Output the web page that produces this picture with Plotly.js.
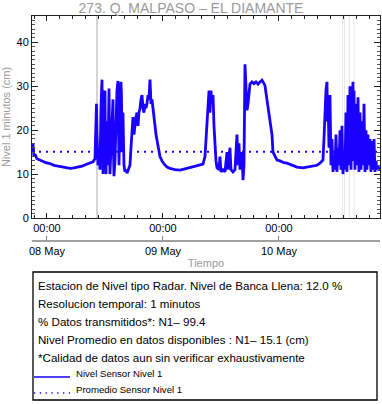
<!DOCTYPE html>
<html><head><meta charset="utf-8">
<script src="https://cdn.plot.ly/plotly-3.0.1.min.js"></script>
<style>html,body{margin:0;padding:0;background:#fff}#chart{width:382px;height:404px}</style>
</head><body><div id="chart"></div>
<script>
const stationTitle = '273. Q. MALPASO – EL DIAMANTE';
const yTitle = 'Nivel 1 minutos (cm)';
const xTitle = 'Tiempo';
const seriesNames = ['Nivel Sensor Nivel 1', 'Promedio Sensor Nivel 1'];
const infoLines = [
  'Estacion de Nivel tipo Radar. Nivel de Banca Llena: 12.0 %',
  'Resolucion temporal: 1 minutos',
  '% Datos transmitidos*: N1– 99.4',
  'Nivel Promedio en datos disponibles : N1– 15.1 (cm)',
  '*Calidad de datos aun sin verificar exhaustivamente'
];
// hours after 2024-05-08 00:00
const hoursFromMay8 = [
-3.10,-2.90,-2.69,-2.48,-2.07,-1.45,-0.83,-0.21,0.62,1.45,2.28,3.10,3.93,4.76,5.59,6.41,7.24,8.07,8.90,9.52,
9.93,10.14,10.24,10.34,10.55,10.76,10.97,11.17,11.38,11.48,11.59,11.79,12.00,12.10,12.21,12.41,12.62,12.83,12.93,13.03,
13.24,13.45,13.66,13.76,13.86,14.07,14.28,14.48,14.69,14.79,14.90,15.10,15.31,15.41,15.52,15.72,15.93,16.14,16.35,16.55,
16.76,16.97,17.17,17.38,17.59,17.79,18.00,18.21,18.41,18.62,18.83,19.03,19.24,19.45,19.66,19.86,20.07,20.28,20.48,20.69,
20.90,21.10,21.31,21.52,21.72,21.93,22.14,22.35,22.55,22.76,22.97,23.17,23.38,23.79,24.21,24.83,25.45,26.48,27.52,28.55,
29.59,30.62,31.66,32.28,32.69,32.90,33.10,33.31,33.52,33.72,33.93,34.14,34.35,34.55,34.76,34.97,35.17,35.59,35.79,36.00,
36.41,36.83,37.24,37.45,37.86,38.07,38.48,38.90,39.31,39.52,39.72,39.93,40.35,40.55,40.76,40.97,41.17,41.38,41.59,41.79,
42.00,42.41,42.83,43.24,43.66,44.07,44.48,44.90,45.10,45.31,45.52,45.72,45.93,46.14,46.34,46.55,46.76,47.17,47.59,48.21,
49.03,49.66,50.69,51.72,52.97,54.00,55.03,55.86,56.48,57.10,57.31,57.52,57.72,57.93,58.04,58.14,58.35,58.55,58.66,58.76,
58.97,59.17,59.38,59.59,59.79,60.00,60.21,60.41,60.62,60.83,61.03,61.24,61.45,61.66,61.86,62.07,62.28,62.48,62.69,62.90,
63.10,63.31,63.41,63.52,63.72,63.93,64.14,64.35,64.55,64.76,64.97,65.17,65.38,65.59,65.79,66.00,66.21,66.41,66.62,66.83,
67.03,67.24,67.45,67.66,67.86,68.07,68.28,68.48,68.69,68.90
];
const levelCm = [
15.0,17.0,14.0,14.5,13.5,13.2,13.0,12.6,12.4,12.0,11.8,11.6,11.4,11.3,11.4,11.6,11.8,12.2,12.5,12.8,
13.5,22,26,20,12,15,11,25,31.5,20,10,28,29,14,10,22,12,29.5,18,10,
16,24,27,15,9.5,13,22,29,31.2,20,12,25,31,28,15,24,12,10.5,11,10.2,
10.8,11,12,16,20,23,19,22,23,24,21,24,25,27,28,25,24,26,25,26,
28,27,31.5,26,27,25,22,21,19,17.5,16,15,14,13,12.3,11.6,11.3,11.0,10.9,11.2,
11.5,11.7,12,12.3,14,18,22,27,29,24,29,26,28,21,16,13,11.5,11,14,10.5,
11,10.5,15,11,16,11,10.5,11,19,12,17,11,15,8.6,12,35,30,24.5,26,29,
30.5,31,30.6,31,30.5,31,31.4,30.6,30.2,28.5,27,26,24,22,21,19,15,14,13.2,13,
12.6,12.5,12,11.6,11.4,11.6,11.8,12,12.5,13.2,18,26,29,31,22,27,16,28,17,12,
18,10.5,14,11,19,10.5,16,12,20,11,21,10,15,11,24,10.5,28,12,30,11,
25,31,13,29,11,26,12,27.5,10.5,24,11,22,12,26,10.5,20,11,19,12,18,
10.5,17.5,11,18,10.5,13,11,12,10.8,11.5
];
const meanLevelCm = 15.1;
const gapHours = [10.34, 61.14, 61.55, 62.59, 63.52];
const xRangeHours = [-3.1, 68.9];
const yRange = [0, 46];

function toDate(h) {
  const d = new Date(Date.UTC(2024, 4, 8) + h * 3600000);
  return d.toISOString().slice(0, 19).replace('T', ' ');
}
const xs = hoursFromMay8.map(toDate);
const xr = xRangeHours.map(toDate);

const W = 382, H = 404, ml = 32, mr = 2, mt = 16;
const pw = W - ml - mr, ph = H - mt;
const px = X => (X - ml) / pw;
const py = Y => (H - Y) / ph;

const blue = '#1a00ff';
const font = 'Liberation Sans, Arial, Helvetica, sans-serif';
const meanDash = '2px,5px';

const traces = [
  {x: xs, y: levelCm, type: 'scatter', mode: 'lines', name: seriesNames[0],
   line: {color: blue, width: 2.8}},
  {x: xr, y: [meanLevelCm, meanLevelCm], type: 'scatter', mode: 'lines', name: seriesNames[1],
   line: {color: blue, width: 2, dash: meanDash}},
  {x: xr, y: [null, null], xaxis: 'x2', yaxis: 'y', showlegend: false, hoverinfo: 'skip'}
];

const shapes = gapHours.map((h, i) => ({
  type: 'line', xref: 'x', yref: 'y', x0: toDate(h), x1: toDate(h), y0: yRange[0], y1: yRange[1],
  line: {color: i === 0 ? '#d4d4d4' : '#e8e8e8', width: i === 0 ? 2 : 1}, layer: 'below'
}));
shapes.push({type: 'rect', xref: 'paper', yref: 'paper', x0: px(33), x1: px(377), y0: py(272), y1: py(400),
  line: {color: '#000', width: 1.3}, fillcolor: 'rgba(0,0,0,0)'});
// legend samples
shapes.push({type: 'line', xref: 'paper', yref: 'paper', x0: px(34), x1: px(70), y0: py(377), y1: py(377),
  line: {color: blue, width: 1.3}});
shapes.push({type: 'line', xref: 'paper', yref: 'paper', x0: px(34), x1: px(70), y0: py(393), y1: py(393),
  line: {color: blue, width: 1.3, dash: '1.3px,4.5px'}});

const annotations = infoLines.map((t, i) => ({
  text: t, xref: 'paper', yref: 'paper', x: px(36), y: py(285 + 18 * i), xanchor: 'left', yanchor: 'middle',
  showarrow: false, font: {family: font, size: 11.6, color: '#000'}
}));
seriesNames.forEach((t, i) => annotations.push({
  text: t, xref: 'paper', yref: 'paper', x: px(74), y: py(373 + 16 * i), xanchor: 'left', yanchor: 'middle',
  showarrow: false, font: {family: font, size: 9.6, color: '#000'}
}));

const layout = {
  width: W, height: H,
  margin: {l: ml, r: mr, t: mt, b: 0, pad: 0},
  paper_bgcolor: '#fff', plot_bgcolor: '#fff',
  font: {family: font, size: 11, color: '#000'},
  title: {text: stationTitle, font: {family: font, size: 14, color: '#9a9a9a'}, x: 0.5, xanchor: 'center',
    yref: 'container', y: 1 - 8.5 / 404, yanchor: 'middle'},
  showlegend: false,
  xaxis: {type: 'date', range: xr, anchor: 'y', showgrid: false, zeroline: false,
    showline: true, linecolor: '#222', linewidth: 1, mirror: 'ticks',
    ticks: 'inside', ticklen: 5, tickcolor: '#222', tickwidth: 1,
    tick0: '2024-05-08 00:00:00', dtick: 86400000, tickformat: '%H:%M',
    tickfont: {family: font, size: 11, color: '#000'},
    minor: {ticks: 'inside', ticklen: 3, tickcolor: '#222', dtick: 9600000, tick0: '2024-05-08 00:00:00', showgrid: false}},
  xaxis2: {type: 'date', range: xr, overlaying: 'x', anchor: 'free', position: py(241), side: 'bottom',
    showgrid: false, zeroline: false, showline: true, linecolor: '#a0a0a0', linewidth: 2,
    ticks: 'inside', ticklen: 4, tickcolor: '#888', tickwidth: 1,
    tick0: '2024-05-08 00:00:00', dtick: 86400000, tickformat: '%d %b',
    tickfont: {family: font, size: 11, color: '#000'},
    title: {text: xTitle, font: {family: font, size: 11, color: '#9a9a9a'}, standoff: 2}},
  yaxis: {range: yRange, domain: [py(218), 1], showgrid: false, zeroline: false,
    showline: true, linecolor: '#222', linewidth: 1, mirror: 'ticks',
    ticks: 'inside', ticklen: 6, tickcolor: '#222', dtick: 10, tick0: 0,
    tickfont: {family: font, size: 11, color: '#000'},
    minor: {ticks: 'inside', ticklen: 3, tickcolor: '#555', dtick: 1, showgrid: false},
    title: {text: yTitle, font: {family: font, size: 11, color: '#9a9a9a'}, standoff: 4}},
  shapes: shapes,
  annotations: annotations
};

Plotly.newPlot('chart', traces, layout, {staticPlot: true, displayModeBar: false});
</script></body></html>
